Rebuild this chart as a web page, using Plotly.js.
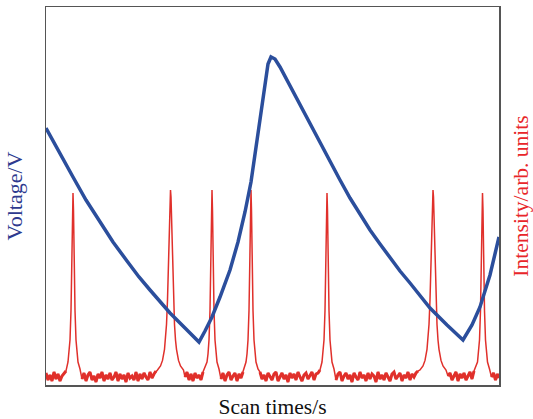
<!DOCTYPE html>
<html>
<head>
<meta charset="utf-8">
<script src="https://cdn.plot.ly/plotly-3.0.1.min.js"></script>
<style>html,body{margin:0;padding:0;background:#fff;}#chart{width:533px;height:419px;}</style>
</head>
<body>
<div id="chart"></div>
<script>
// Voltage sweep (blue), scan time in s, voltage in V
const voltageTime = [0, 1.4, 2.7, 4.0, 5.4, 6.7, 8.1, 9.3, 10.4, 11.4, 12.4, 13.9, 15.3, 15.9, 16.6, 17.4, 18.4, 19.2, 19.9, 20.5, 21.0, 21.5, 21.9, 22.2, 22.5, 22.9, 23.4, 24.4, 25.4, 26.4, 27.4, 28.4, 29.4, 30.4, 31.4, 32.4, 33.4, 34.4, 35.4, 36.4, 37.4, 38.4, 40.1, 41.7, 42.6, 43.4, 44.4, 45.3];
const voltageValue = [2.57, 2.31, 2.08, 1.85, 1.63, 1.43, 1.24, 1.08, 0.95, 0.83, 0.72, 0.57, 0.43, 0.54, 0.68, 0.88, 1.15, 1.43, 1.73, 2.03, 2.37, 2.73, 3.03, 3.21, 3.28, 3.26, 3.18, 2.99, 2.80, 2.61, 2.42, 2.23, 2.05, 1.87, 1.71, 1.55, 1.41, 1.27, 1.14, 1.02, 0.89, 0.77, 0.60, 0.45, 0.60, 0.78, 1.10, 1.48];

// Intensity signal (red), read segment by segment (baseline noise + peaks)
const segA_t = [0, 0.2, 0.4, 0.6, 0.8, 1.0, 1.2, 1.4, 1.6, 1.8, 2.0];
const segA_i = [0.12, 0.05, 0.10, 0.04, 0.13, 0.06, 0.11, 0.04, 0.09, 0.12, 0.14];
const peak1_t = [2.2, 2.3, 2.4, 2.5, 2.55, 2.6, 2.65, 2.7, 2.75, 2.8, 2.85, 2.9, 3.0, 3.1, 3.2, 3.4];
const peak1_i = [0.23, 0.31, 0.45, 0.745, 1.0, 1.36, 1.745, 1.92, 1.745, 1.36, 1.0, 0.745, 0.45, 0.31, 0.23, 0.16];
const segB_t = [3.6, 3.8, 4.0, 4.2, 4.4, 4.6, 4.8, 5.0, 5.2, 5.4, 5.6, 5.8, 6.0, 6.2, 6.4, 6.6, 6.8, 7.0, 7.2, 7.4, 7.6, 7.8, 8.0, 8.2, 8.4, 8.6, 8.8, 9.0, 9.2, 9.4, 9.6, 9.8, 10.0, 10.2, 10.4, 10.6, 10.8, 11.0];
const segB_i = [0.06, 0.12, 0.04, 0.10, 0.13, 0.05, 0.09, 0.03, 0.11, 0.07, 0.13, 0.04, 0.10, 0.06, 0.12, 0.05, 0.08, 0.13, 0.04, 0.11, 0.06, 0.10, 0.03, 0.12, 0.07, 0.09, 0.05, 0.13, 0.04, 0.11, 0.06, 0.12, 0.08, 0.05, 0.13, 0.07, 0.11, 0.14];
const peak2_t = [11.15, 11.45, 11.65, 11.85, 11.95, 12.05, 12.15, 12.25, 12.3, 12.35, 12.4, 12.45, 12.5, 12.55, 12.6, 12.65, 12.75, 12.85, 12.95, 13.05, 13.25, 13.45, 13.75];
const peak2_i = [0.15, 0.19, 0.246, 0.357, 0.45, 0.605, 0.85, 1.22, 1.455, 1.69, 1.88, 1.95, 1.88, 1.69, 1.455, 1.22, 0.85, 0.605, 0.45, 0.357, 0.246, 0.19, 0.15];
const segC_t = [13.9, 14.1, 14.3, 14.5, 14.7, 14.9, 15.1, 15.3, 15.5, 15.7];
const segC_i = [0.08, 0.13, 0.05, 0.11, 0.04, 0.12, 0.07, 0.10, 0.05, 0.13];
const peak3_t = [16.1, 16.2, 16.3, 16.4, 16.45, 16.5, 16.55, 16.6, 16.65, 16.7, 16.75, 16.8, 16.9, 17.0, 17.1, 17.3];
const peak3_i = [0.23, 0.31, 0.45, 0.745, 1.0, 1.36, 1.745, 1.95, 1.745, 1.36, 1.0, 0.745, 0.45, 0.31, 0.23, 0.16];
const segD_t = [17.5, 17.7, 17.9, 18.1, 18.3, 18.5, 18.7, 18.9, 19.1, 19.3, 19.5, 19.7];
const segD_i = [0.06, 0.12, 0.04, 0.10, 0.13, 0.05, 0.09, 0.12, 0.04, 0.11, 0.07, 0.13];
const peak4_t = [20.0, 20.1, 20.2, 20.3, 20.35, 20.4, 20.45, 20.5, 20.55, 20.6, 20.65, 20.7, 20.8, 20.9, 21.0, 21.2];
const peak4_i = [0.23, 0.31, 0.45, 0.745, 1.0, 1.36, 1.745, 1.95, 1.745, 1.36, 1.0, 0.745, 0.45, 0.31, 0.23, 0.16];
const segE_t = [21.4, 21.6, 21.8, 22.0, 22.2, 22.4, 22.6, 22.8, 23.0, 23.2, 23.4, 23.6, 23.8, 24.0, 24.2, 24.4, 24.6, 24.8, 25.0, 25.2, 25.4, 25.6, 25.8, 26.0, 26.2, 26.4, 26.6, 26.8, 27.0, 27.2, 27.4];
const segE_i = [0.13, 0.06, 0.10, 0.04, 0.12, 0.08, 0.05, 0.11, 0.13, 0.04, 0.09, 0.12, 0.06, 0.10, 0.03, 0.12, 0.07, 0.11, 0.05, 0.13, 0.08, 0.04, 0.10, 0.12, 0.06, 0.09, 0.13, 0.05, 0.11, 0.12, 0.15];
const peak5_t = [27.6, 27.7, 27.8, 27.9, 27.95, 28.0, 28.05, 28.1, 28.15, 28.2, 28.25, 28.3, 28.4, 28.5, 28.6, 28.8];
const peak5_i = [0.23, 0.31, 0.45, 0.745, 1.0, 1.36, 1.745, 1.92, 1.745, 1.36, 1.0, 0.745, 0.45, 0.31, 0.23, 0.16];
const segF_t = [29.0, 29.2, 29.4, 29.6, 29.8, 30.0, 30.2, 30.4, 30.6, 30.8, 31.0, 31.2, 31.4, 31.6, 31.8, 32.0, 32.2, 32.4, 32.6, 32.8, 33.0, 33.2, 33.4, 33.6, 33.8, 34.0, 34.2, 34.4, 34.6, 34.8, 35.0, 35.2, 35.4, 35.6, 35.8, 36.0, 36.2, 36.4, 36.6, 36.8, 37.0, 37.2];
const segF_i = [0.05, 0.11, 0.13, 0.04, 0.09, 0.12, 0.06, 0.10, 0.03, 0.12, 0.08, 0.05, 0.13, 0.07, 0.10, 0.04, 0.12, 0.06, 0.11, 0.09, 0.03, 0.13, 0.06, 0.10, 0.05, 0.12, 0.08, 0.04, 0.11, 0.13, 0.06, 0.09, 0.12, 0.04, 0.10, 0.07, 0.13, 0.05, 0.11, 0.08, 0.12, 0.14];
const peak6_t = [37.4, 37.7, 37.9, 38.1, 38.2, 38.3, 38.4, 38.5, 38.55, 38.6, 38.65, 38.7, 38.75, 38.8, 38.85, 38.9, 39.0, 39.1, 39.2, 39.3, 39.5, 39.7, 40.0];
const peak6_i = [0.15, 0.19, 0.246, 0.357, 0.45, 0.605, 0.85, 1.22, 1.455, 1.69, 1.88, 1.95, 1.88, 1.69, 1.455, 1.22, 0.85, 0.605, 0.45, 0.357, 0.246, 0.19, 0.15];
const segG_t = [40.2, 40.4, 40.6, 40.8, 41.0, 41.2, 41.4, 41.6, 41.8, 42.0, 42.2, 42.4, 42.6, 42.8];
const segG_i = [0.09, 0.12, 0.05, 0.10, 0.13, 0.04, 0.11, 0.07, 0.12, 0.05, 0.09, 0.13, 0.06, 0.14];
const peak7_t = [43.15, 43.25, 43.35, 43.45, 43.5, 43.55, 43.6, 43.65, 43.7, 43.75, 43.8, 43.85, 43.95, 44.05, 44.15, 44.35];
const peak7_i = [0.23, 0.31, 0.45, 0.745, 1.0, 1.36, 1.745, 1.92, 1.745, 1.36, 1.0, 0.745, 0.45, 0.31, 0.23, 0.16];
const segH_t = [44.55, 44.75, 44.95, 45.15, 45.3];
const segH_i = [0.08, 0.12, 0.05, 0.11, 0.07];

const xTitle = 'Scan times/s';
const yTitleLeft = 'Voltage/V';
const yTitleRight = 'Intensity/arb. units';

// full signal
const intensityTime = [].concat(segA_t, peak1_t, segB_t, peak2_t, segC_t, peak3_t, segD_t, peak4_t, segE_t, peak5_t, segF_t, peak6_t, segG_t, peak7_t, segH_t);
const intensityValue = [].concat(segA_i, peak1_i, segB_i, peak2_i, segC_i, peak3_i, segD_i, peak4_i, segE_i, peak5_i, segF_i, peak6_i, segG_i, peak7_i, segH_i);
// noise floor only (gaps at peaks), drawn thicker to give the noisy band
const floorT = [segA_t, segB_t, segC_t, segD_t, segE_t, segF_t, segG_t, segH_t];
const floorI = [segA_i, segB_i, segC_i, segD_i, segE_i, segF_i, segG_i, segH_i];
const noiseTime = [], noiseValue = [];
floorT.forEach((ts, k) => {
  ts.forEach((t, j) => { noiseTime.push(t); noiseValue.push(floorI[k][j]); });
  noiseTime.push(ts[ts.length - 1]); noiseValue.push(null);
});

const serif = 'Liberation Serif, Times New Roman, serif';
const blue = '#2b4e9c';
const red = '#e0302b';

const traces = [
  {x: noiseTime, y: noiseValue, type: 'scatter', mode: 'lines', yaxis: 'y', connectgaps: false,
   line: {color: red, width: 3}, hoverinfo: 'skip'},
  {x: intensityTime, y: intensityValue, type: 'scatter', mode: 'lines', yaxis: 'y',
   line: {color: red, width: 1.5}, hoverinfo: 'skip'},
  {x: voltageTime, y: voltageValue, type: 'scatter', mode: 'lines', yaxis: 'y2',
   line: {color: blue, width: 3.5}, hoverinfo: 'skip'}
];

const layout = {
  width: 533, height: 419,
  margin: {l: 46, r: 34, t: 7, b: 34},
  paper_bgcolor: '#fff', plot_bgcolor: '#fff',
  showlegend: false,
  font: {family: serif, size: 20, color: '#000'},
  xaxis: {range: [0, 45.3], showgrid: false, zeroline: false, showticklabels: false, ticks: '',
          showline: true, mirror: true, linecolor: '#555', linewidth: 1.5,
          title: {text: xTitle, font: {family: serif, size: 21.5, color: '#111'}, standoff: 14}},
  yaxis: {range: [0, 3.78], side: 'right', showgrid: false, zeroline: false, showticklabels: false, ticks: '',
          showline: true, mirror: true, linecolor: '#555', linewidth: 1.5,
          title: {text: yTitleRight, font: {family: serif, size: 21.5, color: '#e8262a'}, standoff: 15}},
  yaxis2: {range: [0, 3.78], overlaying: 'y', side: 'left', showgrid: false, zeroline: false, showticklabels: false, ticks: '',
           showline: false,
           title: {text: yTitleLeft, font: {family: serif, size: 22, color: '#2e3a8f'}, standoff: 16}}
};

Plotly.newPlot('chart', traces, layout, {staticPlot: true, displayModeBar: false});
</script>
</body>
</html>
